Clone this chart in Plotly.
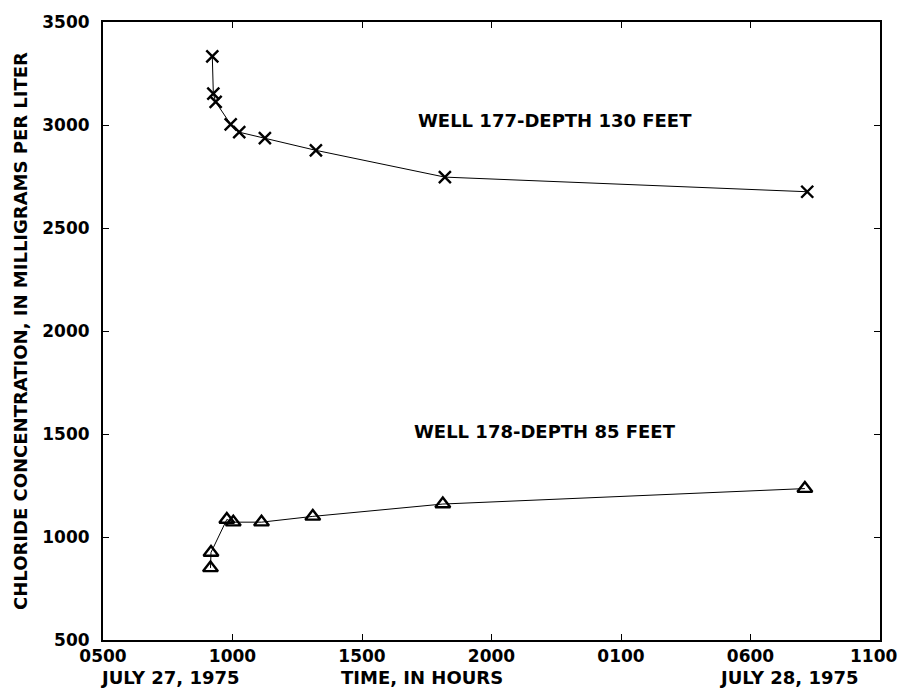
import plotly.graph_objects as go

# hours after 0500, July 27, 1975
w177_t = [4.22, 4.26, 4.35, 4.93, 5.26, 6.25, 8.22, 13.2, 27.19]
w177_c = [3333, 3152, 3112, 3003, 2965, 2936, 2877, 2747, 2676]

w178_t = [4.15, 4.17, 4.78, 5.03, 6.12, 8.1, 13.12, 27.1]
w178_c = [850, 925, 1085, 1072, 1072, 1100, 1160, 1235]

x_tickvals = [0, 5, 10, 15, 20, 25, 30]
x_ticktext = ["0500", "1000", "1500", "2000", "0100", "0600", ""]
last_tick_label = "1100"
y_tickvals = [500, 1000, 1500, 2000, 2500, 3000, 3500]

FONT = "DejaVu Sans"
FS_TICK = 17
FS_TXT = 18

fig = go.Figure()
fig.add_trace(go.Scatter(
    x=w177_t, y=w177_c, mode="lines+markers",
    line=dict(color="black", width=1),
    marker=dict(symbol="x-thin-open", size=12, color="black", line=dict(width=2.4, color="black")),
    showlegend=False))
fig.add_trace(go.Scatter(
    x=w178_t, y=w178_c, mode="lines+markers",
    line=dict(color="black", width=1),
    marker=dict(symbol="triangle-up-open", size=13, color="black", line=dict(width=2.4, color="black")),
    showlegend=False))

fig.update_layout(
    width=900, height=690,
    margin=dict(l=103, r=20, t=15, b=50),
    paper_bgcolor="white", plot_bgcolor="white",
    font=dict(family=FONT, size=FS_TICK, color="black", weight="bold"),
    xaxis=dict(range=[0, 30], tickvals=x_tickvals, ticktext=x_ticktext,
               showgrid=False, zeroline=False, showline=True, linecolor="black", linewidth=2,
               mirror="ticks", ticks="inside", ticklen=6, tickcolor="black",
               ticklabelstandoff=0,
               tickfont=dict(family=FONT, size=FS_TICK, weight="bold")),
    yaxis=dict(range=[500, 3500], tickvals=y_tickvals,
               showgrid=False, zeroline=False, showline=True, linecolor="black", linewidth=2,
               mirror="ticks", ticks="inside", ticklen=6, tickcolor="black",
               ticklabelstandoff=8,
               tickfont=dict(family=FONT, size=FS_TICK, weight="bold"),
               title=dict(text="CHLORIDE CONCENTRATION, IN MILLIGRAMS PER LITER",
                          font=dict(family=FONT, size=FS_TXT, weight="bold"), standoff=10)),
)

# last x tick label placed so it stays inside the page
fig.add_annotation(x=30, xref="x", xanchor="right", xshift=19, y=0, yref="paper",
                   yanchor="top", yshift=-4, text=last_tick_label, showarrow=False,
                   font=dict(family=FONT, size=FS_TICK, weight="bold"))

fig.add_annotation(x=17.45, y=3024, text="WELL 177-DEPTH 130 FEET", showarrow=False,
                   font=dict(family=FONT, size=FS_TXT, weight="bold"))
fig.add_annotation(x=17.07, y=1510, text="WELL 178-DEPTH 85 FEET", showarrow=False,
                   font=dict(family=FONT, size=FS_TXT, weight="bold"))

for xp, txt in [(2.6, "JULY 27, 1975"), (12.3, "TIME, IN HOURS"), (26.5, "JULY 28, 1975")]:
    fig.add_annotation(x=xp, xref="x", y=-0.06, yref="paper", yanchor="middle",
                       text=txt, showarrow=False,
                       font=dict(family=FONT, size=FS_TXT, weight="bold"))

fig.write_html("out.html")
